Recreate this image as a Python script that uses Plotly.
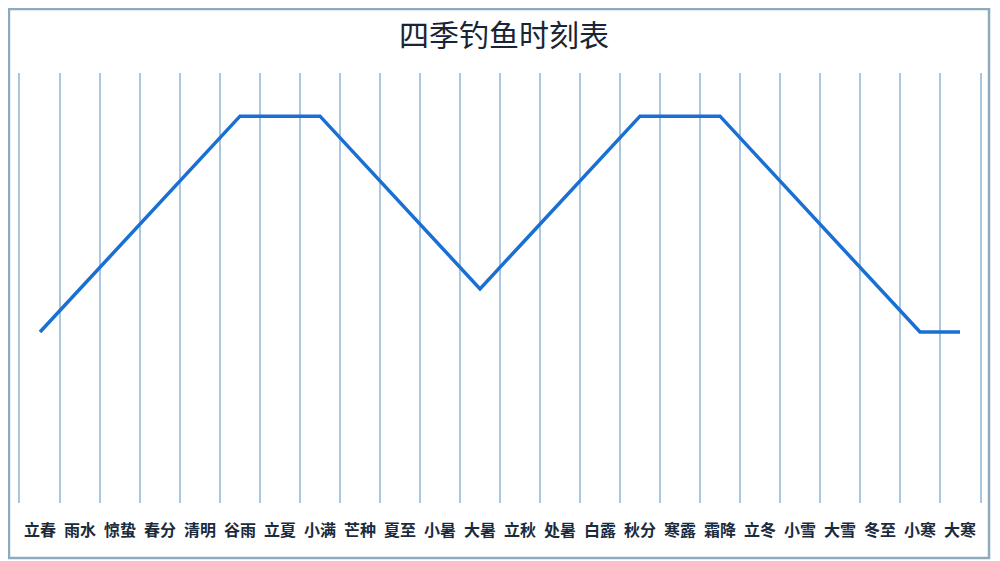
import plotly.graph_objects as go

terms = ["立春", "雨水", "惊蛰", "春分", "清明", "谷雨", "立夏", "小满", "芒种", "夏至", "小暑", "大暑",
         "立秋", "处暑", "白露", "秋分", "寒露", "霜降", "立冬", "小雪", "大雪", "冬至", "小寒", "大寒"]
fishing_level = [1, 2, 3, 4, 5, 6, 6, 6, 5, 4, 3, 2,
                 3, 4, 5, 6, 6, 6, 5, 4, 3, 2, 1, 1]
title_text = "四季钓鱼时刻表"

grid_color = "#aac7df"

fig = go.Figure()
fig.add_trace(go.Scatter(
    x=terms, y=fishing_level, mode="lines",
    line=dict(color="#1a70d2", width=3.5),
    hoverinfo="x+y", showlegend=False,
))

fig.update_layout(
    width=992, height=553,
    margin=dict(l=12, r=20, t=65, b=58),
    paper_bgcolor="white", plot_bgcolor="white",
    title=dict(text=title_text, x=0.5, xanchor="center", y=0.951, yanchor="middle",
               font=dict(family="Noto Sans CJK SC", size=30, color="#172536")),
    xaxis=dict(
        type="category", range=[-0.5, 23.5], tickson="boundaries",
        showgrid=True, gridcolor=grid_color, gridwidth=2,
        ticks="", showline=False, zeroline=False, tickangle=0,
        ticklabelstandoff=16,
        tickfont=dict(family="Noto Sans CJK SC", size=16, color="#1b2b3b", weight="bold"),
    ),
    yaxis=dict(range=[-2.96, 7.0], showticklabels=False, ticks="", showgrid=False, zeroline=False,
               showline=True, mirror=True, linecolor=grid_color, linewidth=2),
    shapes=[dict(type="rect", xref="paper", yref="paper",
                 x0=-0.0115, x1=1.0094, y0=-0.128, y1=1.1488,
                 line=dict(color="#8eabbd", width=2.5), layer="below")],
)

fig.write_html("out.html")
